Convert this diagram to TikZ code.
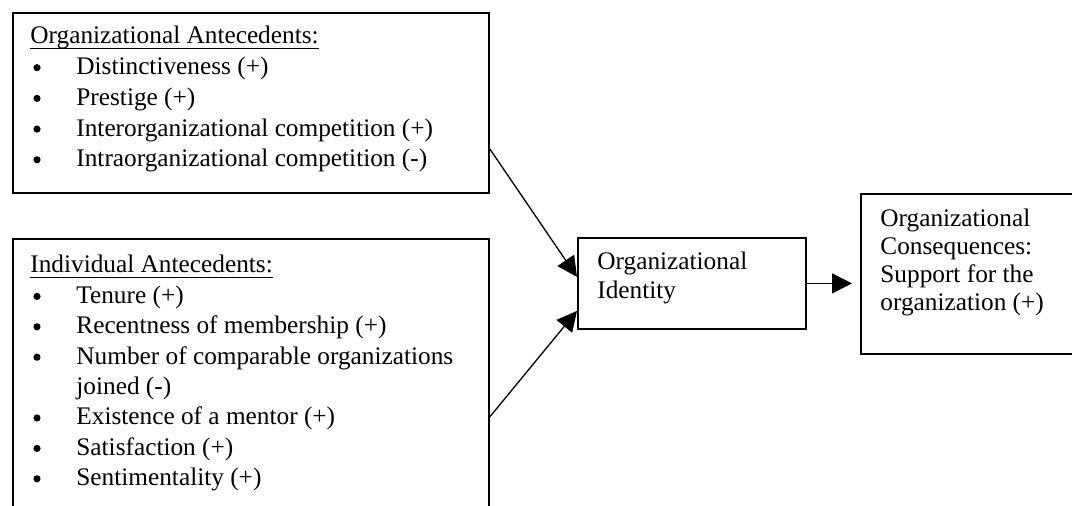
\documentclass[tikz,border=0pt]{standalone}
\usepackage{fontspec}
\setmainfont{Liberation Serif}
\usetikzlibrary{arrows.meta}
\tikzset{
  box/.style={draw,line width=0.9pt,inner sep=0pt,anchor=north west},
  txt/.style={anchor=base west,inner sep=0pt},
  bul/.style={circle,fill,inner sep=0pt,minimum size=3.6pt},
  arr/.style={-{Triangle[length=10pt,width=10pt]},line width=0.65pt}
}
\begin{document}
\begin{tikzpicture}[x=0.5pt,y=-0.5pt,every node/.style={font=\fontsize{12.65}{15}\selectfont}]
\clip (0,0) rectangle (1072,506);
% boxes
\node[box,minimum width=238pt,minimum height=90pt] (orgBox) at (12,12) {};
\node[box,minimum width=238pt,minimum height=139pt] (indBox) at (12,238) {};
\node[box,minimum width=114pt,minimum height=45.5pt] (idBox) at (577,237) {};
\node[box,minimum width=110pt,minimum height=80pt] (conBox) at (860,193) {};
% organizational antecedents
\node[txt] (orgTitle) at (30,44) {Organizational Antecedents:};
\draw[line width=0.5pt] ([yshift=-2.4pt]orgTitle.base west) -- ([yshift=-2.4pt]orgTitle.base east);
\foreach \t [count=\i] in {Distinctiveness (+),Prestige (+),Interorganizational competition (+),Intraorganizational competition (-)}{
  \node[bul] (orgDot\i) at (37,37+30.7*\i) {};
  \node[txt] (orgItem\i) at (76,44+30.7*\i) {\t};
}
% individual antecedents
\node[txt] (indTitle) at (30,273) {Individual Antecedents:};
\draw[line width=0.5pt] ([yshift=-2.4pt]indTitle.base west) -- ([yshift=-2.4pt]indTitle.base east);
\foreach \k/\t in {1/Tenure (+),2/Recentness of membership (+),3/Number of comparable organizations,5/Existence of a mentor (+),6/Satisfaction (+),7/Sentimentality (+)}{
  \node[bul] (indDot\k) at (37,266+30.4*\k) {};
  \node[txt] (indItem\k) at (76,273+30.4*\k) {\t};
}
\node[txt] (indItem4) at (76,273+30.4*4) {joined (-)};
% identity
\node[txt] (idL1) at (597,270) {Organizational};
\node[txt] (idL2) at (597,299) {Identity};
% consequences
\node[txt] (conL1) at (880,227) {Organizational};
\node[txt] (conL2) at (880,255) {Consequences:};
\node[txt] (conL3) at (880,283) {Support for the};
\node[txt] (conL4) at (880,311) {organization (+)};
% arrows
\draw[arr] ([yshift=-23pt]orgBox.east) -- ([yshift=3.25pt]idBox.west);
\draw[arr] ([yshift=-19.5pt]indBox.east) -- ([yshift=-13.75pt]idBox.west);
\draw[arr,shorten >=4pt] (idBox.east) -- (idBox.east -| conBox.west);
\end{tikzpicture}
\end{document}
